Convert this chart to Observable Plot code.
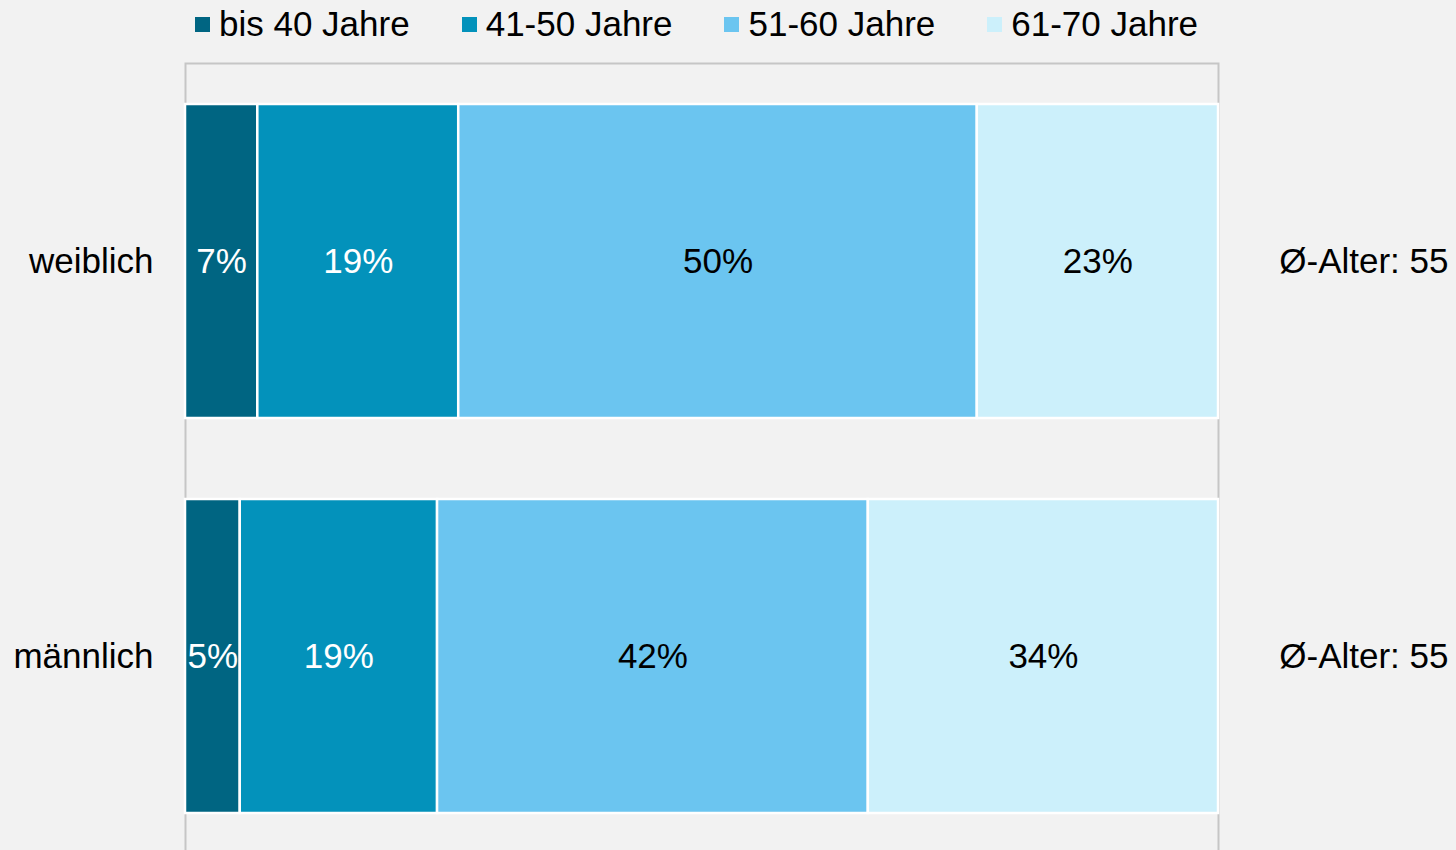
<!DOCTYPE html>
<html>
<head>
<meta charset="utf-8">
<script src="https://cdn.jsdelivr.net/npm/d3@7"></script>
<script src="https://cdn.jsdelivr.net/npm/@observablehq/plot@0.6"></script>
<style>
  html, body { margin: 0; padding: 0; background: #f2f2f2; overflow: hidden; }
  body { width: 1456px; height: 850px; font-family: "Liberation Sans", Arial, sans-serif; }
  #legend { height: 50px; box-sizing: border-box; padding-left: 195px; padding-top: 4px;
            display: flex; align-items: baseline; font-size: 35px; line-height: 40px; color: #000; }
  #legend .item { display: inline-flex; align-items: baseline; margin-right: 52px; }
  #legend .sw { display: inline-block; width: 15px; height: 15px; margin-right: 9px; position: relative; top: -4px; }
  svg { display: block; }
</style>
</head>
<body>
<div id="legend"></div>
<div id="chart"></div>
<script>
const groups = ["weiblich", "männlich"];
const ages = ["bis 40 Jahre", "41-50 Jahre", "51-60 Jahre", "61-70 Jahre"];
const colors = ["#006582", "#0392bb", "#6bc5f0", "#ccf0fb"];
const weiblich = [7.0, 19.45, 50.2, 23.35];
const maennlich = [5.3, 19.1, 41.7, 33.9];
const labelsW = [7, 19, 50, 23];
const labelsM = [5, 19, 42, 34];
const avgAge = [55, 55];

const data = [];
ages.forEach((a, i) => data.push({group: groups[0], age: a, i, value: weiblich[i], label: labelsW[i]}));
ages.forEach((a, i) => data.push({group: groups[1], age: a, i, value: maennlich[i], label: labelsM[i]}));
const avgData = groups.map((g, i) => ({group: g, avg: avgAge[i]}));

// legend
const legend = document.getElementById("legend");
ages.forEach((a, i) => {
  const it = document.createElement("span");
  it.className = "item";
  const sw = document.createElement("span");
  sw.className = "sw";
  sw.style.background = colors[i];
  it.appendChild(sw);
  it.appendChild(document.createTextNode(a));
  legend.appendChild(it);
});

const stackOpts = {x: "value", y: "group", z: "age", order: ages};

const chart = Plot.plot({
  width: 1456,
  height: 804,
  marginTop: 13,
  marginBottom: 0,
  marginLeft: 185,
  marginRight: 238,
  style: {background: "#f2f2f2", fontFamily: "Liberation Sans, Arial, sans-serif", color: "#000", overflow: "visible"},
  x: {domain: [0, 100], axis: null},
  y: {domain: groups, paddingInner: 0.205, paddingOuter: 0.1025, label: null},
  color: {domain: ages, range: colors},
  marks: [
    Plot.frame({stroke: "#c6c6c6", strokeWidth: 2}),
    Plot.barX(data, Plot.stackX({...stackOpts, fill: "age", stroke: "white", strokeWidth: 2.5})),
    Plot.text(data, Plot.stackX({...stackOpts, text: d => d.i < 2 ? d.label + "%" : "", fill: "white", fontSize: 35})),
    Plot.text(data, Plot.stackX({...stackOpts, text: d => d.i >= 2 ? d.label + "%" : "", fill: "black", fontSize: 35})),
    Plot.text(avgData, {y: "group", text: d => "Ø-Alter: " + d.avg, frameAnchor: "right", textAnchor: "end", dx: 230, fontSize: 35, fill: "black"}),
    Plot.axisY({tickSize: 0, tickPadding: 32, fontSize: 35, label: null})
  ]
});
document.getElementById("chart").appendChild(chart);
</script>
</body>
</html>
